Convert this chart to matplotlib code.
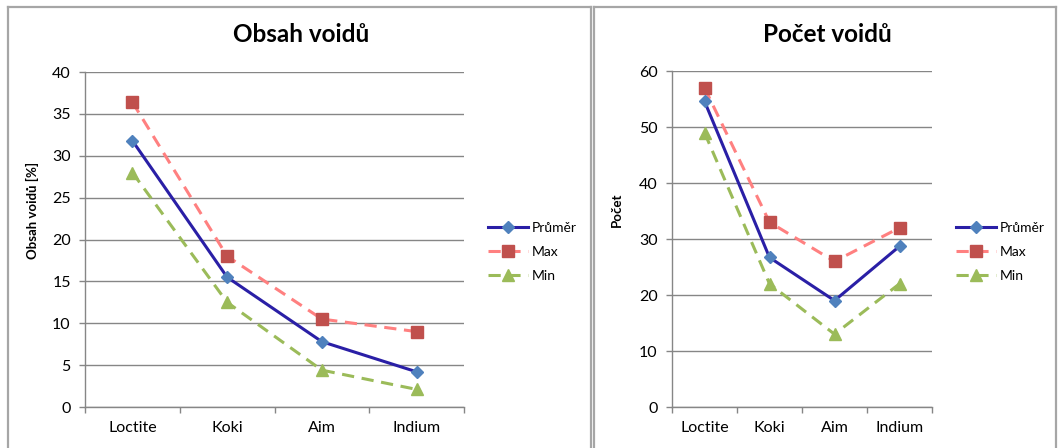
import matplotlib
matplotlib.use("Agg")
import matplotlib.pyplot as plt
from matplotlib.lines import Line2D

plt.rcParams['font.family'] = ['Lato', 'DejaVu Sans']

categories = ["Loctite", "Koki", "Aim", "Indium"]

# Obsah voidů [%]
obsah_prumer = [31.8, 15.5, 7.8, 4.2]
obsah_max = [36.4, 18.0, 10.5, 9.0]
obsah_min = [28.0, 12.5, 4.4, 2.1]

# Počet voidů
pocet_prumer = [54.6, 26.7, 19.0, 28.7]
pocet_max = [57, 33, 26, 32]
pocet_min = [49, 22, 13, 22]

series_labels = ["Průměr", "Max", "Min"]

W, H = 1058, 448
fig = plt.figure(figsize=(W / 100, H / 100), dpi=100)

GRID = "#868686"
FRAME = "#A6A6A6"


def fx(px):
    return px / W


def fy(py):
    return 1 - py / H


# chart frames
for x0, x1 in [(8, 591), (594, 1056)]:
    for xs, ys in [([x0, x0], [7, H + 5]), ([x1, x1], [7, H + 5]), ([x0, x1], [7, 7])]:
        fig.add_artist(Line2D([fx(v) for v in xs], [fy(v) for v in ys],
                              color=FRAME, lw=1.6, transform=fig.transFigure))


def draw(ax, prumer, vmax, vmin, ymax, ystep, title, ylabel, title_x, ylabel_x, legend_x):
    x = list(range(len(categories)))
    ax.plot(x, vmax, color="#FF8080", lw=2.2, dashes=(4, 2.5), marker="s", ms=8,
            mfc="#C0504D", mec="#C0504D", label=series_labels[1], zorder=3)
    ax.plot(x, vmin, color="#9BBB59", lw=2.2, dashes=(4, 2.5), marker="^", ms=9,
            mfc="#9BBB59", mec="#9BBB59", label=series_labels[2], zorder=3)
    ax.plot(x, prumer, color="#2A1FA6", lw=2.2, marker="D", ms=6.5,
            mfc="#4F81BD", mec="#4F81BD", label=series_labels[0], zorder=4)

    ax.set_xlim(-0.5, len(categories) - 0.5)
    ax.set_ylim(0, ymax)
    ax.set_yticks(range(0, ymax + 1, ystep))
    ax.set_xticks(x)
    ax.set_xticklabels(categories)
    ax.set_xticks([i - 0.5 for i in range(len(categories) + 1)], minor=True)

    ax.grid(axis="y", color=GRID, lw=1.0)
    ax.set_axisbelow(True)
    for s in ["top", "right"]:
        ax.spines[s].set_visible(False)
    for s in ["left", "bottom"]:
        ax.spines[s].set_color(GRID)
        ax.spines[s].set_linewidth(1.0)

    ax.tick_params(axis="x", which="major", length=0, pad=10, labelsize=11.5)
    ax.tick_params(axis="x", which="minor", length=4, color=GRID, width=1.0)
    ax.tick_params(axis="y", length=4.3, color=GRID, width=1.0, pad=6, labelsize=11.5)

    fig.text(fx(title_x), fy(35), title, ha="center", va="center",
             fontsize=17.5, fontweight="bold")
    fig.text(fx(ylabel_x), fy(210), ylabel, ha="center", va="center",
             rotation=90, fontsize=9.5, fontweight="bold")

    handles, labels = ax.get_legend_handles_labels()
    order = [2, 0, 1]
    fig.legend([handles[i] for i in order], [labels[i] for i in order],
               loc="center left", bbox_to_anchor=(fx(legend_x), fy(252)),
               frameon=False, borderpad=0, borderaxespad=0, fontsize=10,
               handlelength=2.9, handletextpad=0.25, labelspacing=0.85)


ax1 = fig.add_axes([fx(85), fy(407), fx(464 - 85), (407 - 72) / H])
draw(ax1, obsah_prumer, obsah_max, obsah_min, 40, 5,
     "Obsah voidů", "Obsah voidů [%]", 301, 32, 488)

ax2 = fig.add_axes([fx(672), fy(407), fx(932 - 672), (407 - 71) / H])
draw(ax2, pocet_prumer, pocet_max, pocet_min, 60, 10,
     "Počet voidů", "Počet", 827, 617, 956)

fig.savefig("out.png", dpi=100)
